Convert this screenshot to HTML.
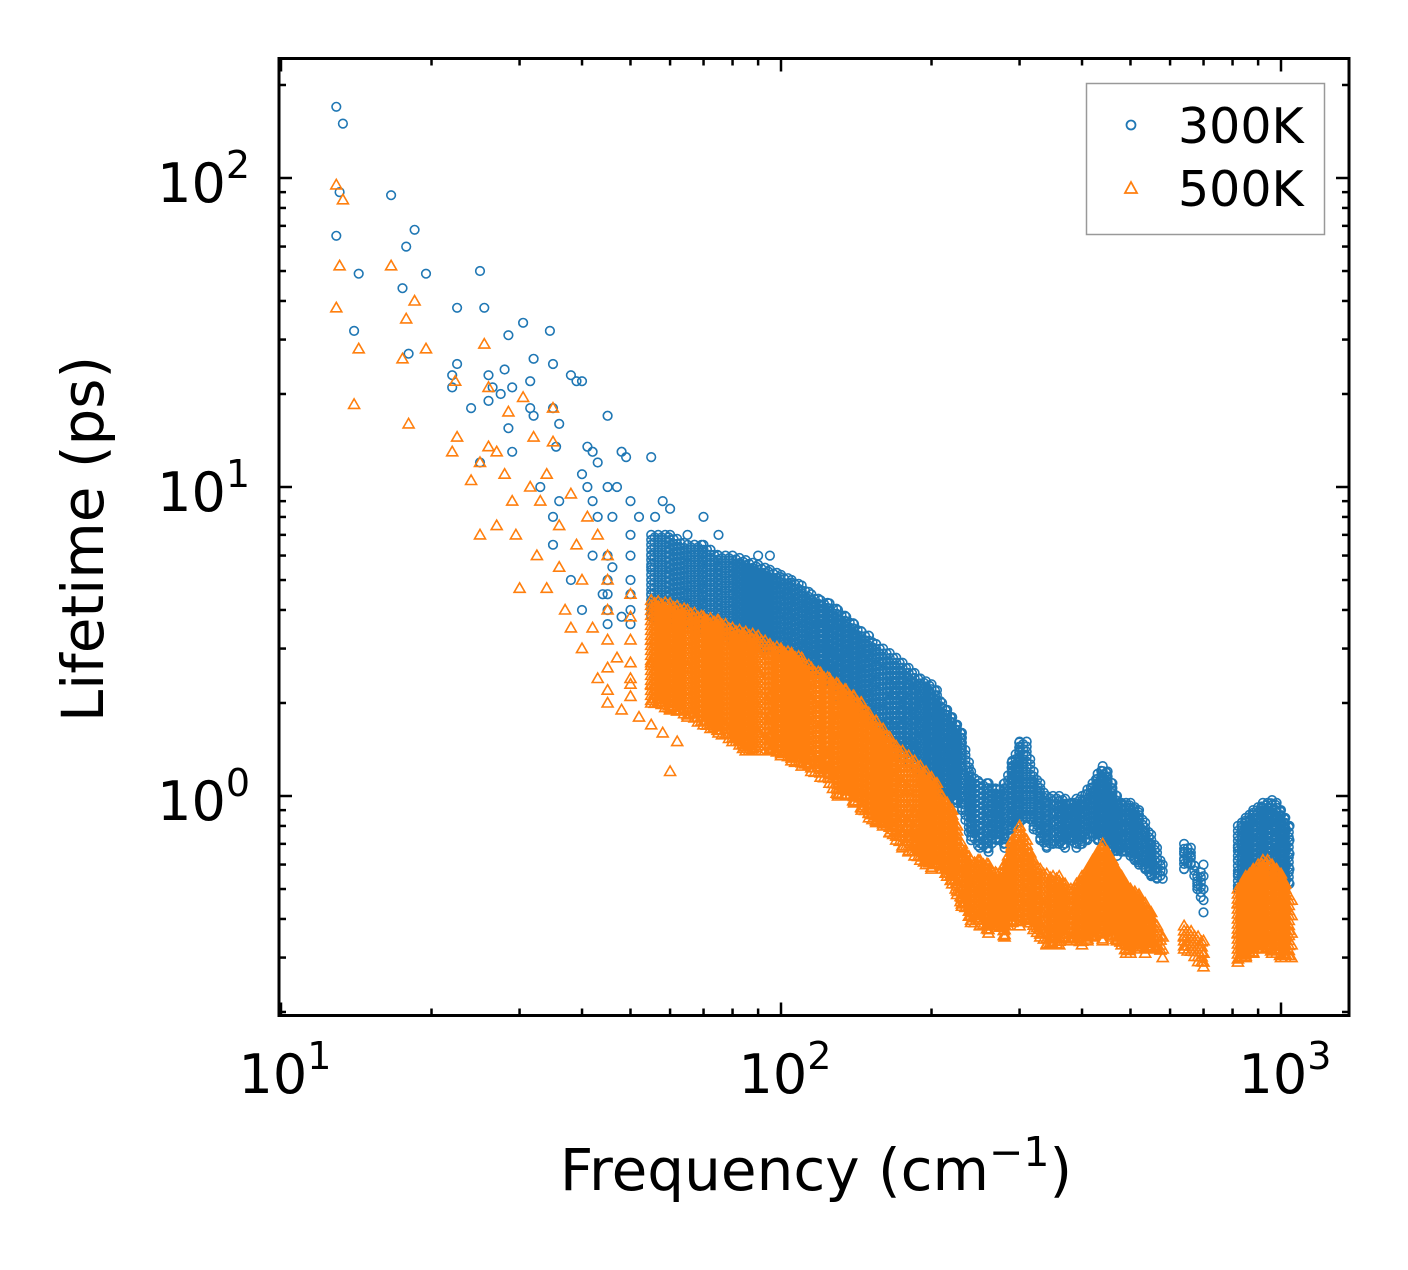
<!DOCTYPE html>
<html><head><meta charset="utf-8"><style>
html,body{margin:0;padding:0;background:#fff;}
svg text{font-family:"DejaVu Sans","Liberation Sans",sans-serif;fill:#000;}
</style></head><body>
<svg id="chart" width="1408" height="1265" viewBox="0 0 1408 1265" xmlns="http://www.w3.org/2000/svg">
<rect width="1408" height="1265" fill="#fff"/>
<g id="marks"></g>
<g id="ticks"></g>
<rect x="279" y="58.5" width="1070" height="957" fill="none" stroke="#000" stroke-width="3"/>
<g id="labels"></g>
<text x="816" y="1190" font-size="58" text-anchor="middle">Frequency (cm<tspan dy="-24" font-size="41">−1</tspan><tspan dy="24">)</tspan></text>
<text transform="translate(103,539) rotate(-90)" font-size="58" text-anchor="middle">Lifetime (ps)</text>
<g>
<rect x="1086.5" y="83.5" width="238" height="151" fill="#fff" stroke="#999" stroke-width="1.5"/>
<circle cx="1131" cy="125" r="4.5" fill="none" stroke="#1f77b4" stroke-width="1.8"/>
<text x="1178" y="143" font-size="49">300K</text>
<polygon points="1131,182 1137,193 1125,193" fill="none" stroke="#ff7f0e" stroke-width="1.8"/>
<text x="1178" y="206" font-size="49">500K</text>
</g>
</svg>
<script>
// isolated points: [freq, lifetime]
const sparse300 = [[12.9,170],[13.3,150],[13.1,90],[12.9,65],[14,32],[14.3,49],[16.6,88],[17.5,44],[17.8,60],[18,27],[18.5,68],[19.5,49],[22.5,38],[22,23],[22.5,25],[22,21],[25,50],[25.5,38],[24,18],[25,12],[26,23],[26,19],[26.5,21],[27.5,20],[28,24],[28.5,31],[29,21],[28.5,15.5],[29,13],[30.5,34],[31.5,22],[31.5,18],[32,26],[32,17],[33,10],[34.5,32],[35,25],[35,18],[36,16],[35.5,13.5],[35,8],[35,6.5],[36,9],[38,23],[39,22],[40,22],[41,13.5],[42,13],[41,10],[40,11],[42,9],[43,12],[43,8],[45,17],[45,10],[46,8],[47,10],[48,13],[49,12.5],[50,9],[52,8],[55,12.5],[56,8],[58,9],[60,8.5],[65,7],[70,8],[75,7],[80,6],[90,6],[95,6],[38,5],[40,4],[42,6],[44,4.5],[46,5.5],[48,3.8]];
const sparse500 = [[12.9,95],[13.3,85],[13.1,52],[12.9,38],[14.3,28],[14,18.5],[16.6,52],[17.5,26],[17.8,35],[18,16],[18.5,40],[19.5,28],[22,13],[22.5,14.5],[22.3,22],[24,10.5],[25,12],[25.5,29],[25,7],[26,21],[26,13.5],[27,7.5],[27,13],[28,11],[28.5,17.5],[29,9],[29.5,7],[30,4.7],[30.5,19.5],[31.5,10],[32,14.5],[32.5,6],[33,9],[34,11],[34,4.7],[35,18],[35,14],[36,7.5],[36,5.5],[37,4],[38,9.5],[38,3.5],[39,6.5],[40,5],[40,3],[41,8],[42,3.5],[43,7],[43,2.4],[45,6],[45,2],[47,2.8],[48,1.9],[50,2.4],[52,1.8],[55,1.7],[58,1.6],[60,1.2],[62,1.5]];
// dense band columns: frequency and lifetime values at that frequency
const cols300 = [45,50,55,60,65,70,75,80,85,90,95,100,105,110,115,120,125,130,135,140,145,150,155,160,165,170,175,180,185,190,195,200,205,210,215,220,225,230,240,250,260,270,280,290,300,310,320,330,340,350,360,370,380,390,400,410,420,430,440,450,460,470,480,490,500,510,520,535,550,565,580,640,660,680,700,820,835,850,865,880,900,920,940,960,980,1000,1020,1040];
const vals300 = [[6,5,4.5,4,3.6],[7,6,5,4.5,4,3.6],[7,6,5.5,5,4.5,3.8],[7,6.3,5.5,5,4.5,4,3.5],[6.5,6,5.4,4.8,4.2,3.7,3.5],[6.5,5.8,5.2,4.7,4.2,3.7,3.4],[6,5.5,5,4.5,4,3.6,3.3],[6,5.5,5,4.5,4,3.6,3.2],[5.8,5.3,4.8,4.4,3.9,3.5,3.1],[5.6,5.1,4.6,4.2,3.8,3.4,3],[5.4,4.9,4.5,4.1,3.6,3.3,3],[5.2,4.7,4.3,3.9,3.5,3.2,2.9],[5,4.5,4.1,3.7,3.3,3,2.7],[4.8,4.3,3.9,3.5,3.2,2.9,2.6],[4.5,4.1,3.7,3.4,3.1,2.8,2.5],[4.3,3.9,3.5,3.2,2.9,2.6,2.4],[4.2,3.7,3.4,3.1,2.8,2.5,2.2],[4,3.6,3.2,2.9,2.6,2.4,2.1],[3.8,3.4,3.1,2.8,2.5,2.2,2],[3.6,3.3,3,2.7,2.4,2.1,1.9],[3.4,3.1,2.8,2.5,2.2,2,1.8],[3.3,3,2.7,2.4,2.1,1.9,1.7],[3.1,2.8,2.5,2.2,2,1.8,1.65],[3,2.7,2.4,2.1,1.9,1.7,1.6],[2.9,2.6,2.3,2.05,1.85,1.65,1.5],[2.8,2.5,2.2,2,1.75,1.55,1.4],[2.7,2.4,2.1,1.9,1.7,1.5,1.35],[2.6,2.3,2,1.8,1.6,1.45,1.3],[2.5,2.2,1.95,1.75,1.55,1.4,1.25],[2.4,2.1,1.85,1.65,1.45,1.3,1.2],[2.35,2.05,1.8,1.6,1.4,1.25,1.15],[2.3,2,1.75,1.55,1.35,1.2,1.1],[2.2,1.9,1.65,1.45,1.3,1.15,1.05],[2,1.8,1.6,1.4,1.25,1.1,1],[1.9,1.7,1.5,1.3,1.15,1.05,0.95],[1.8,1.6,1.4,1.25,1.1,1],[1.7,1.5,1.3,1.15,1.05,0.95],[1.6,1.4,1.25,1.1,1,0.9],[1.2,1.1,1,0.92,0.85,0.78,0.72],[1.1,1.02,0.95,0.88,0.8,0.74,0.68],[1.1,1,0.9,0.84,0.78,0.72,0.66],[1.05,0.97,0.9,0.84,0.78,0.72],[1.1,1,0.95,0.88,0.8,0.74,0.68],[1.3,1.2,1.1,1,0.92,0.85,0.78],[1.5,1.4,1.3,1.2,1.1,1,0.9,0.82],[1.5,1.35,1.2,1.1,1,0.92,0.85],[1.2,1.1,1,0.92,0.85,0.78],[1.1,1,0.92,0.85,0.78,0.72],[1,0.95,0.9,0.84,0.78,0.72,0.68],[1,0.94,0.88,0.82,0.76,0.7],[1,0.94,0.88,0.82,0.76,0.7],[0.98,0.92,0.86,0.8,0.74,0.68],[0.95,0.9,0.84,0.78,0.72],[0.98,0.92,0.86,0.8,0.74,0.68],[1,0.94,0.88,0.82,0.76,0.7],[1.05,0.98,0.9,0.84,0.78,0.72],[1.1,1.02,0.95,0.88,0.8,0.74],[1.18,1.1,1,0.92,0.85,0.78,0.72],[1.25,1.15,1.05,0.95,0.87,0.8,0.72],[1.2,1.1,1,0.92,0.84,0.76,0.7],[1.1,1.02,0.95,0.87,0.8,0.72,0.66],[1,0.94,0.88,0.82,0.76,0.7,0.64],[0.95,0.9,0.84,0.78,0.72,0.66],[0.95,0.9,0.84,0.78,0.72,0.66],[0.95,0.88,0.82,0.76,0.7,0.64],[0.92,0.86,0.8,0.74,0.68,0.62],[0.9,0.84,0.78,0.72,0.66,0.6],[0.82,0.76,0.7,0.64,0.58],[0.75,0.7,0.65,0.6,0.55],[0.68,0.63,0.58,0.54],[0.6,0.57,0.54],[0.7,0.66,0.62,0.58],[0.68,0.64,0.6],[0.55,0.52,0.5],[0.6,0.55,0.5,0.46,0.42],[0.8,0.74,0.68,0.62,0.56,0.5],[0.82,0.76,0.7,0.64,0.58,0.52],[0.85,0.78,0.7,0.64,0.58,0.52],[0.87,0.8,0.72,0.65,0.58,0.52],[0.9,0.82,0.75,0.68,0.6,0.54],[0.92,0.84,0.76,0.68,0.6,0.55],[0.95,0.86,0.78,0.7,0.62,0.55],[0.95,0.86,0.78,0.7,0.62,0.55],[0.97,0.88,0.8,0.72,0.64,0.56],[0.95,0.86,0.78,0.7,0.62,0.55],[0.9,0.82,0.75,0.68,0.6,0.52],[0.85,0.78,0.7,0.63,0.56,0.5],[0.8,0.72,0.65,0.58,0.52]];
const cols500 = [45,50,55,60,65,70,75,80,85,90,95,100,105,110,115,120,125,130,135,140,145,150,155,160,165,170,175,180,185,190,195,200,205,210,215,220,225,230,240,250,260,270,280,290,300,310,320,330,340,350,360,370,380,390,400,410,420,430,440,450,460,470,480,490,500,510,520,535,550,565,580,640,700,820,835,850,865,880,900,920,940,960,980,1000,1020,1050];
const vals500 = [[5,4,3.2,2.6,2.2],[4.5,3.8,3.2,2.7,2.3,2.1],[4.3,3.7,3.2,2.7,2.3,2],[4.2,3.6,3.1,2.6,2.2,1.9],[4,3.5,3,2.6,2.2,1.8],[3.8,3.3,2.9,2.5,2.1,1.8,1.7],[3.7,3.2,2.8,2.4,2,1.8,1.6],[3.5,3.1,2.7,2.3,2,1.7,1.5],[3.4,3,2.6,2.2,1.9,1.6,1.4],[3.3,2.9,2.5,2.2,1.9,1.6,1.4],[3.1,2.8,2.4,2.1,1.8,1.55,1.4],[3,2.7,2.3,2,1.75,1.5,1.35],[2.9,2.6,2.2,1.95,1.7,1.45,1.3],[2.8,2.5,2.15,1.9,1.6,1.4,1.25],[2.6,2.35,2.05,1.8,1.55,1.35,1.2],[2.5,2.25,1.95,1.7,1.5,1.3,1.15],[2.4,2.15,1.85,1.6,1.4,1.25,1.1],[2.3,2.05,1.8,1.55,1.35,1.2,1],[2.2,1.95,1.7,1.5,1.3,1.15,1],[2.1,1.85,1.6,1.4,1.2,1.05,0.95],[2,1.75,1.5,1.3,1.15,1,0.9],[1.85,1.65,1.45,1.25,1.1,0.98,0.85],[1.75,1.55,1.35,1.2,1.05,0.93,0.82],[1.65,1.45,1.28,1.12,1,0.9,0.8],[1.55,1.38,1.2,1.06,0.95,0.85,0.76],[1.45,1.3,1.15,1,0.9,0.8,0.72],[1.4,1.24,1.1,0.96,0.85,0.76,0.68],[1.35,1.2,1.05,0.92,0.82,0.73,0.66],[1.3,1.15,1,0.88,0.78,0.7,0.64],[1.25,1.1,0.96,0.85,0.75,0.67,0.62],[1.2,1.05,0.92,0.82,0.72,0.64,0.6],[1.15,1,0.88,0.78,0.68,0.62,0.58],[1.1,0.96,0.85,0.75,0.66,0.6],[1,0.9,0.8,0.72,0.64,0.58],[0.95,0.85,0.76,0.68,0.6,0.55],[0.9,0.8,0.72,0.64,0.57,0.52],[0.8,0.72,0.65,0.58,0.52,0.48],[0.7,0.63,0.57,0.52,0.47,0.44],[0.62,0.56,0.51,0.46,0.42,0.39],[0.62,0.56,0.5,0.46,0.42,0.38],[0.6,0.54,0.48,0.43,0.39,0.36],[0.56,0.5,0.45,0.41,0.38],[0.6,0.53,0.47,0.42,0.38,0.35],[0.72,0.63,0.55,0.48,0.43,0.39],[0.8,0.7,0.61,0.53,0.47,0.42,0.38],[0.72,0.63,0.55,0.49,0.44,0.4],[0.62,0.55,0.49,0.44,0.4,0.37],[0.58,0.52,0.46,0.42,0.38,0.35],[0.56,0.5,0.45,0.4,0.36,0.33],[0.55,0.49,0.44,0.4,0.36,0.33],[0.55,0.49,0.44,0.39,0.35,0.33],[0.52,0.47,0.42,0.38,0.35],[0.5,0.45,0.41,0.37,0.34],[0.52,0.46,0.41,0.37,0.34],[0.55,0.49,0.44,0.39,0.35,0.33],[0.58,0.52,0.46,0.41,0.37,0.34],[0.62,0.55,0.49,0.44,0.39,0.35],[0.66,0.58,0.51,0.45,0.4,0.36],[0.7,0.62,0.55,0.48,0.42,0.38,0.34],[0.66,0.59,0.52,0.46,0.41,0.37],[0.62,0.55,0.49,0.44,0.39,0.35],[0.58,0.52,0.46,0.41,0.37,0.34],[0.55,0.49,0.44,0.4,0.36,0.33],[0.52,0.47,0.42,0.38,0.34,0.31],[0.5,0.45,0.41,0.37,0.33,0.31],[0.49,0.44,0.4,0.36,0.33],[0.48,0.43,0.39,0.35,0.32],[0.45,0.41,0.37,0.34,0.31],[0.42,0.38,0.35,0.32],[0.38,0.35,0.32],[0.35,0.32,0.3],[0.38,0.35,0.32],[0.34,0.31,0.29,0.28],[0.5,0.45,0.4,0.36,0.32,0.29],[0.52,0.46,0.41,0.37,0.33,0.3],[0.55,0.48,0.42,0.37,0.33,0.3],[0.56,0.49,0.43,0.38,0.34,0.31],[0.58,0.5,0.44,0.39,0.34,0.31],[0.6,0.52,0.45,0.4,0.35,0.32],[0.62,0.53,0.46,0.4,0.35,0.32],[0.62,0.53,0.46,0.4,0.35,0.32],[0.6,0.52,0.45,0.39,0.34,0.31],[0.58,0.5,0.44,0.38,0.34,0.31],[0.56,0.48,0.42,0.37,0.33,0.3],[0.52,0.46,0.4,0.35,0.32,0.3],[0.46,0.41,0.36,0.33,0.3]];
const xMajorTicks = [10,100,1000];
const yMajorTicks = [1,10,100];
const xTickLabels = ["1","2","3"];
const yTickLabels = ["0","1","2"];

const NS = "http://www.w3.org/2000/svg";
const X0 = 281, XDEC = 500, Y0 = 796, YDEC = 309;
const L = 279, R = 1349, T = 58.5, B = 1015.5;
function xs(f){ return X0 + XDEC*Math.log10(f/10); }
function ys(v){ return Y0 - YDEC*Math.log10(v); }
function mk(tag, attrs, parent){ const e=document.createElementNS(NS,tag); for(const k in attrs) e.setAttribute(k,attrs[k]); parent.appendChild(e); return e; }

const marks = document.getElementById('marks');
const g300 = mk('g',{fill:'none',stroke:'#1f77b4','stroke-width':1.6},marks);


const g500 = mk('g',{fill:'none',stroke:'#ff7f0e','stroke-width':1.6},marks);



let d300 = "", d500 = "";
function circD(x,y){ return `M${(x+4.3).toFixed(1)},${y.toFixed(1)}a4.3,4.3 0 1,0 -8.6,0a4.3,4.3 0 1,0 8.6,0`; }
function triD(x,y){ return `M${x.toFixed(1)},${(y-5.5).toFixed(1)}l5.5,9.5h-11z`; }
function circ(f,v){ d300 += circD(xs(f),ys(v)); }
function tri(f,v){ d500 += triD(xs(f),ys(v)); }

// dense cloud between per-column extremes of the read values
function cloud(cols, vals, fn, stepX, stepY, fStart){
  let out = "";
  for(let i=0;i<cols.length-1;i++){
    if(cols[i] < fStart) continue;
    if(cols[i+1]/cols[i] > 1.095) continue; // gap in the spectrum
    const xa=xs(cols[i]), xb=xs(cols[i+1]);
    const ha=ys(Math.max(...vals[i])), la=ys(Math.min(...vals[i]));
    const hb=ys(Math.max(...vals[i+1])), lb=ys(Math.min(...vals[i+1]));
    let k=0;
    for(let x=xa; x<xb; x+=stepX, k++){
      const t=(x-xa)/(xb-xa);
      const h=ha+(hb-ha)*t, l=la+(lb-la)*t;
      for(let y=h+(k%2)*stepY/2; y<=l; y+=stepY) out += fn(x,y);
    }
  }
  return out;
}
sparse300.forEach(p=>circ(p[0],p[1]));
cols300.forEach((f,i)=>vals300[i].forEach(v=>circ(f,v)));
d300 += cloud(cols300, vals300, circD, 3.5, 5, 55);
sparse500.forEach(p=>tri(p[0],p[1]));
cols500.forEach((f,i)=>vals500[i].forEach(v=>tri(f,v)));
d500 += cloud(cols500, vals500, triD, 3.5, 5, 55);
const p300 = mk('path',{d:d300},g300);


const p500 = mk('path',{d:d500},g500);



// ticks
const tk = document.getElementById('ticks');
function line(x1,y1,x2,y2,name){
  const l = mk('line',{x1,y1,x2,y2,stroke:'#000','stroke-width':2.5},tk);
  
  
}
for(let d=1; d<=1000; d*=10){
  for(let m=1;m<10;m++){
    const f=d*m; const x=xs(f);
    if(x<L-0.5||x>R) continue;
    const len = m===1?13:7;
    line(x,B,x,B-len,'x-tick'); line(x,T,x,T+len,'x-tick-top');
  }
}
for(let d=0.1; d<=1000; d*=10){
  for(let m=1;m<10;m++){
    const v=d*m; const y=ys(v);
    if(y<T||y>B) continue;
    const len = m===1?13:7;
    line(L,y,L+len,y,'y-tick'); line(R,y,R-len,y,'y-tick-right');
  }
}
// tick labels
const lb = document.getElementById('labels');
xMajorTicks.forEach((f,i)=>{
  const t = mk('text',{x:xs(f)+4,y:1093,'font-size':54,'text-anchor':'middle'},lb);
  
  
  t.innerHTML = `10<tspan dy="-24" font-size="38">${xTickLabels[i]}</tspan>`;
});
yMajorTicks.forEach((v,i)=>{
  const t = mk('text',{x:250,y:ys(v)+24,'font-size':54,'text-anchor':'end'},lb);
  
  
  t.innerHTML = `10<tspan dy="-24" font-size="38">${yTickLabels[i]}</tspan>`;
});
</script>
</body></html>
